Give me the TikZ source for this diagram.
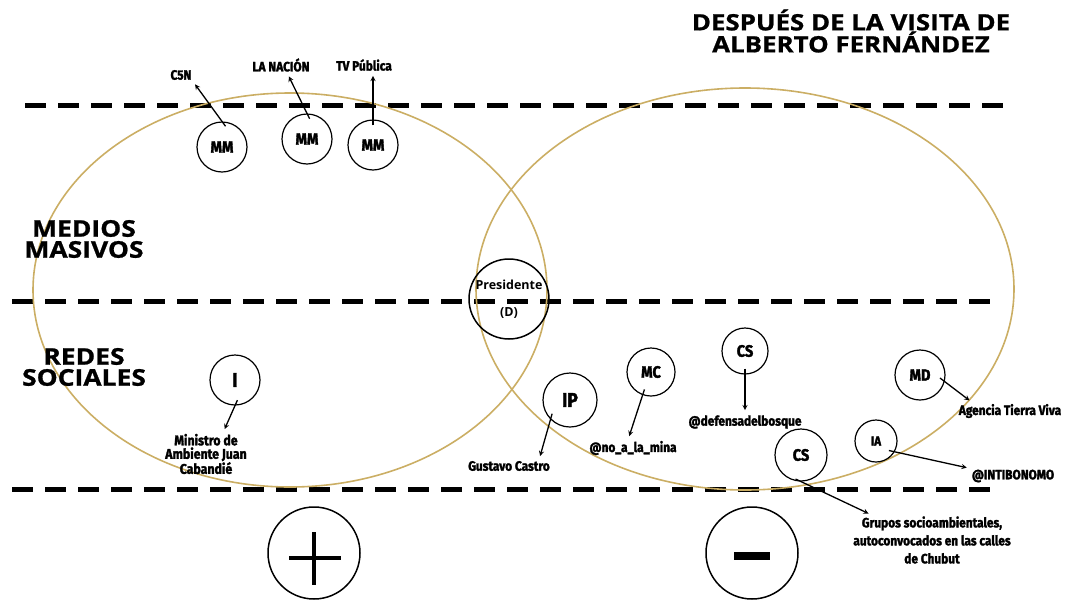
\documentclass[tikz,border=0pt]{standalone}
\usepackage{fontspec}
\setmainfont{Open Sans}
\newfontfamily\condfont[FakeStretch=0.88, FakeBold=2]{Fira Sans}
\newfontfamily\heavyfont[FakeStretch=1.15, FakeBold=1]{Open Sans}
\definecolor{gold}{RGB}{203,174,100}

\begin{document}
\begin{tikzpicture}[x=1pt,y=-1pt,
    dashline/.style={line width=5pt, dash pattern=on 21pt off 12pt},
    zone/.style={gold, line width=1.6pt},
    actor/.style={circle, draw, line width=1.2pt, minimum size=#1, inner sep=0pt,
        font=\condfont\bfseries\fontsize{16.5}{16}\selectfont},
    actor/.default=50pt,
    lbl/.style={font=\condfont\bfseries\fontsize{13.5}{18}\selectfont, inner sep=1pt, align=center},
    arr/.style={->, >=stealth, line width=1.3pt, shorten <=-6pt, shorten >=4pt},
    sign/.style={circle, draw, line width=1.5pt, minimum size=92pt}]
    \useasboundingbox (0,0) rectangle (1068,600);

    % bands and the two zones
    \draw[dashline] (25,105) -- (1010,105);
    \draw[dashline] (12,301) -- (997,301);
    \draw[dashline] (12,489) -- (997,489);
    \draw[zone] (290,290) ellipse [x radius=257pt, y radius=197pt];
    \draw[zone] (745,289) ellipse [x radius=269pt, y radius=201pt];

    % titles
    \node[font=\heavyfont\bfseries\fontsize{22.5}{22}\selectfont, align=center] (title) at (851,31)
        {DESPUÉS DE LA VISITA DE\\ALBERTO FERNÁNDEZ};
    \node[font=\heavyfont\bfseries\fontsize{23}{21}\selectfont, align=center] (medios) at (84,239)
        {MEDIOS\\MASIVOS};
    \node[font=\heavyfont\bfseries\fontsize{23}{21}\selectfont, align=center] (redes) at (84,367)
        {REDES\\SOCIALES};

    % medios masivos
    \node[actor] (mm1) at (222,147) {MM};
    \node[actor] (mm2) at (307,139) {MM};
    \node[actor] (mm3) at (373,145) {MM};
    \node[lbl] (c5n) at (181,75) {C5N};
    \node[lbl] (lanacion) at (281,65) {LA NACIÓN};
    \node[lbl] (tvpublica) at (364,65) {TV Pública};
    \draw[arr] (mm1.north) -- (c5n.south east);
    \draw[arr] (mm2.north) -- ([xshift=6pt]lanacion.south);
    \draw[arr] (mm3.north) -- (mm3.north |- tvpublica.south);

    % presidente
    \node[circle, draw, line width=1.5pt, minimum size=80pt, inner sep=0pt, align=center,
        font=\bfseries\fontsize{12.5}{13}\selectfont] (pres) at (509,299) {Presidente\\[14pt](D)};

    % redes sociales, lado positivo
    \node[actor, font=\condfont\bfseries\fontsize{20}{20}\selectfont] (inf) at (235,380) {I};
    \node[lbl, font=\condfont\bfseries\fontsize{14}{13.5}\selectfont] (ministro) at (206,454)
        {Ministro de\\Ambiente Juan\\Cabandié};
    \draw[arr] (inf.south) -- ([xshift=17pt]ministro.north);

    % lado negativo
    \node[actor=54pt, font=\condfont\bfseries\fontsize{20}{20}\selectfont] (ip) at (570,400) {IP};
    \node[lbl] (gustavo) at (509,466) {Gustavo Castro};
    \draw[arr] (ip.225) -- ([xshift=30pt]gustavo.north);

    \node[actor=48pt] (mc) at (651,372) {MC};
    \node[lbl] (nomina) at (633,448) {@no\_a\_la\_mina};
    \draw[arr] (mc.250) -- ([xshift=-5pt]nomina.north);

    \node[actor=46pt] (cs1) at (745,351) {CS};
    \node[lbl] (defensa) at (745,422) {@defensadelbosque};
    \draw[arr] (cs1.south) -- (cs1.south |- defensa.north);

    \node[actor=52pt] (cs2) at (801,455) {CS};
    \node[lbl] (grupos) at (932,540) {Grupos socioambientales,\\autoconvocados en las calles\\de Chubut};
    \draw[arr] (cs2.south) -- ([xshift=20pt]grupos.north west);

    \node[actor=42pt, font=\condfont\bfseries\fontsize{13}{13}\selectfont] (ia) at (876,441) {IA};
    \node[lbl] (intibonomo) at (1013,476) {@INTIBONOMO};
    \draw[arr] (ia.-30) -- (intibonomo.north west);

    \node[actor] (md) at (920,375) {MD};
    \node[lbl] (agencia) at (1010,411) {Agencia Tierra Viva};
    \draw[arr] (md.-15) -- ([xshift=15pt]agencia.north west);

    % signos
    \node[sign] (plus) at (314,553) {};
    \draw[line width=4pt] ([shift={(-25pt,-5pt)}]plus.center) -- ([shift={(27pt,-5pt)}]plus.center);
    \draw[line width=4pt] ([shift={(0pt,21pt)}]plus.center) -- ([shift={(0pt,-32pt)}]plus.center);
    \node[sign] (minus) at (752,553) {};
    \draw[line width=8pt] ([shift={(-18pt,-3pt)}]minus.center) -- ([shift={(18pt,-3pt)}]minus.center);
\end{tikzpicture}
\end{document}
